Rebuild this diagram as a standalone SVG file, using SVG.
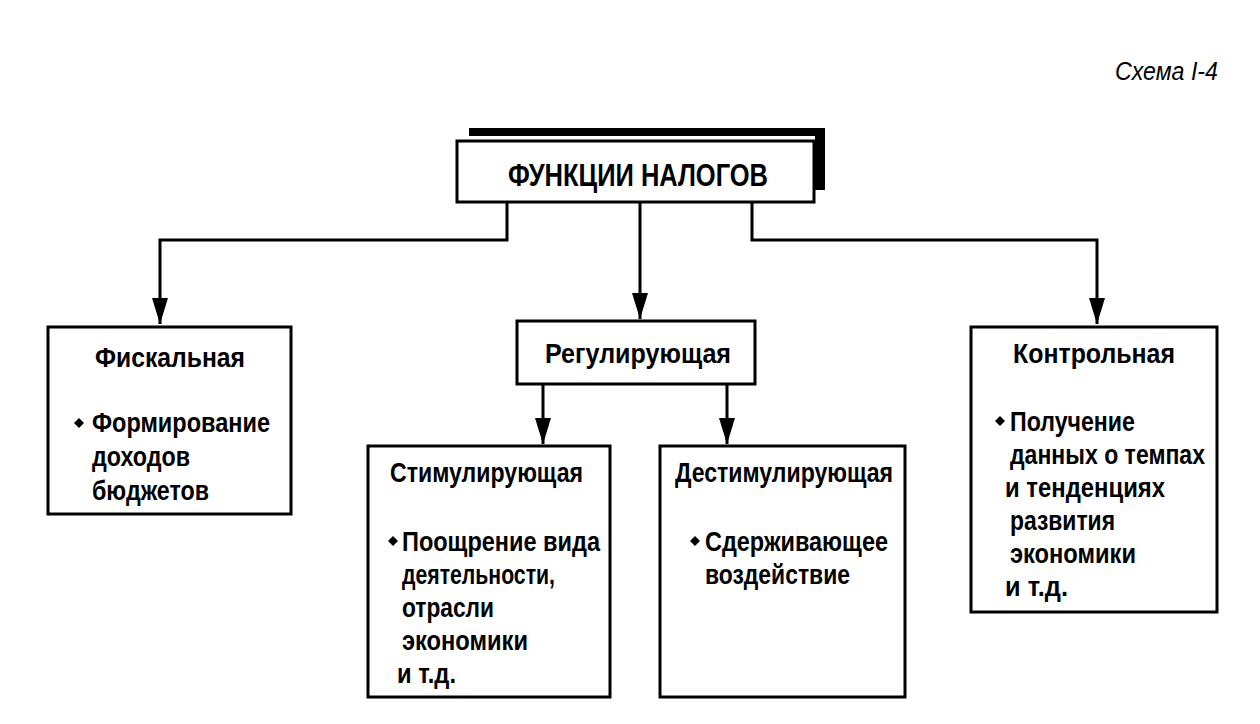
<svg xmlns="http://www.w3.org/2000/svg" width="1260" height="724" viewBox="0 0 1260 724">
<style>
.box{fill:#fff;stroke:#000;stroke-width:3}
.con{fill:none;stroke:#000;stroke-width:3}
.t{font-family:"Liberation Sans","Arial",sans-serif;font-weight:bold;font-size:28px;fill:#000}
.h{font-family:"Liberation Sans","Arial",sans-serif;font-weight:bold;font-size:31px;fill:#000}
.cap{font-family:"Liberation Sans","Arial",sans-serif;font-style:italic;font-size:26px;fill:#000}
.d{fill:#000}
</style>
<defs>
<marker id="ah" markerUnits="userSpaceOnUse" markerWidth="26" markerHeight="16" refX="26" refY="8" orient="auto" viewBox="0 0 26 16">
<path d="M0,0 L26,8 L0,16 Z" fill="#000"/>
</marker>
</defs>
<rect width="1260" height="724" fill="#fff"/>
<text class="cap" x="1115" y="80" textLength="103" lengthAdjust="spacingAndGlyphs">Схема I-4</text>

<g id="connectors">
<path class="con" d="M507,202 V240 H160 V324" marker-end="url(#ah)"/>
<path class="con" d="M640,202 V319" marker-end="url(#ah)"/>
<path class="con" d="M752,202 V240 H1097 V324" marker-end="url(#ah)"/>
<path class="con" d="M543,384 V444" marker-end="url(#ah)"/>
<path class="con" d="M727,384 V444" marker-end="url(#ah)"/>
</g>

<g id="root">
<rect x="469" y="128" width="356" height="8" fill="#000"/>
<rect x="815" y="128" width="10" height="62" fill="#000"/>
<rect class="box" x="457" y="141" width="357" height="61"/>
<text class="h" x="508" y="186" textLength="260" lengthAdjust="spacingAndGlyphs">ФУНКЦИИ НАЛОГОВ</text>
</g>

<g id="fiscal">
<rect class="box" x="48" y="327" width="243" height="187"/>
<text class="t" x="95" y="367" textLength="150" lengthAdjust="spacingAndGlyphs">Фискальная</text>
<polygon class="d" points="79,418 84,423 79,428 74,423"/>
<text class="t" x="92" y="432" textLength="178" lengthAdjust="spacingAndGlyphs">Формирование</text>
<text class="t" x="92" y="466" textLength="98" lengthAdjust="spacingAndGlyphs">доходов</text>
<text class="t" x="92" y="500" textLength="117" lengthAdjust="spacingAndGlyphs">бюджетов</text>
</g>

<g id="regul">
<rect class="box" x="517" y="321" width="238" height="63"/>
<text class="t" x="545" y="363" textLength="186" lengthAdjust="spacingAndGlyphs">Регулирующая</text>
</g>

<g id="stim">
<rect class="box" x="368" y="446" width="242" height="251"/>
<text class="t" x="390" y="482" textLength="193" lengthAdjust="spacingAndGlyphs">Стимулирующая</text>
<polygon class="d" points="393,536 398,541 393,546 388,541"/>
<text class="t" x="402" y="551" textLength="198" lengthAdjust="spacingAndGlyphs">Поощрение вида</text>
<text class="t" x="402" y="584" textLength="153" lengthAdjust="spacingAndGlyphs">деятельности,</text>
<text class="t" x="402" y="617" textLength="92" lengthAdjust="spacingAndGlyphs">отрасли</text>
<text class="t" x="402" y="650" textLength="126" lengthAdjust="spacingAndGlyphs">экономики</text>
<text class="t" x="397" y="683" textLength="59" lengthAdjust="spacingAndGlyphs">и т.д.</text>
</g>

<g id="destim">
<rect class="box" x="660" y="446" width="245" height="251"/>
<text class="t" x="675" y="482" textLength="218" lengthAdjust="spacingAndGlyphs">Дестимулирующая</text>
<polygon class="d" points="695,536 700,541 695,546 690,541"/>
<text class="t" x="705" y="551" textLength="183" lengthAdjust="spacingAndGlyphs">Сдерживающее</text>
<text class="t" x="705" y="584" textLength="145" lengthAdjust="spacingAndGlyphs">воздействие</text>
</g>

<g id="control">
<rect class="box" x="971" y="327" width="246" height="285"/>
<text class="t" x="1013" y="363" textLength="162" lengthAdjust="spacingAndGlyphs">Контрольная</text>
<polygon class="d" points="1000,416 1005,421 1000,426 995,421"/>
<text class="t" x="1010" y="431" textLength="125" lengthAdjust="spacingAndGlyphs">Получение</text>
<text class="t" x="1010" y="464" textLength="195" lengthAdjust="spacingAndGlyphs">данных о темпах</text>
<text class="t" x="1005" y="497" textLength="160" lengthAdjust="spacingAndGlyphs">и тенденциях</text>
<text class="t" x="1010" y="530" textLength="105" lengthAdjust="spacingAndGlyphs">развития</text>
<text class="t" x="1010" y="563" textLength="126" lengthAdjust="spacingAndGlyphs">экономики</text>
<text class="t" x="1005" y="596" textLength="63" lengthAdjust="spacingAndGlyphs">и т.д.</text>
</g>
</svg>
